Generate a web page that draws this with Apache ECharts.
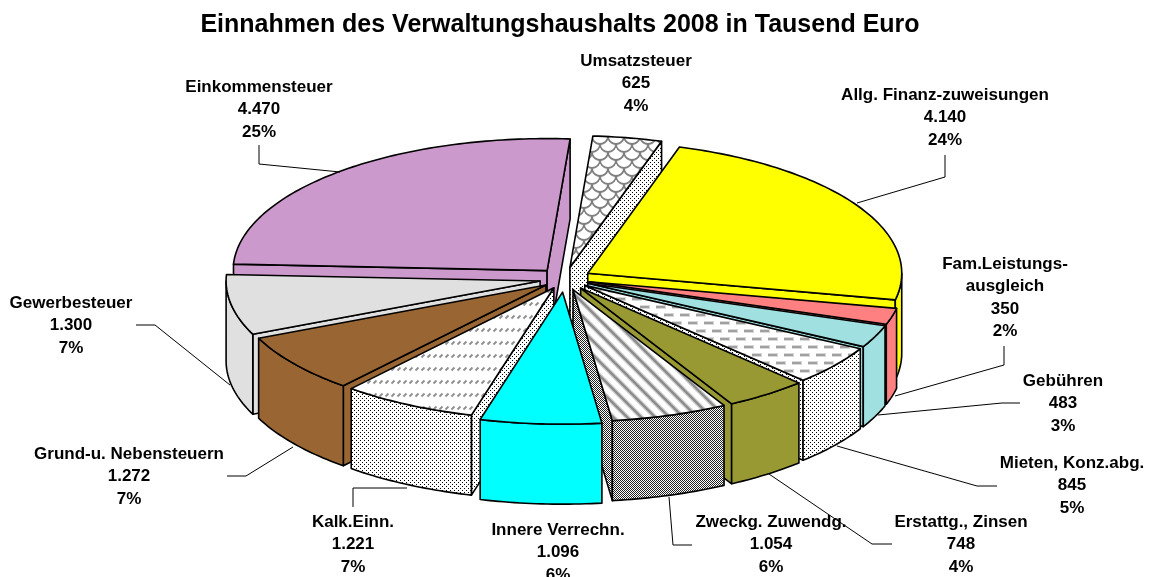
<!DOCTYPE html>
<html>
<head>
<meta charset="utf-8">
<style>html,body{margin:0;padding:0;background:#fff}#chart{width:1156px;height:577px}</style>
<script src="https://cdn.jsdelivr.net/npm/echarts@6/dist/echarts.min.js"></script>
</head>
<body>
<div id="chart"></div>
<script>
const chartTitle = 'Einnahmen des Verwaltungshaushalts 2008 in Tausend Euro'
const names = ['Umsatzsteuer', 'Allg. Finanz-zuweisungen', 'Fam.Leistungs-\nausgleich', 'Gebühren', 'Mieten, Konz.abg.',
  'Erstattg., Zinsen', 'Zweckg. Zuwendg.', 'Innere Verrechn.', 'Kalk.Einn.', 'Grund-u. Nebensteuern', 'Gewerbesteuer', 'Einkommensteuer']
const values = [625, 4140, 350, 483, 845, 748, 1054, 1096, 1221, 1272, 1300, 4470]

// how far each slice is pulled out, as share of the radius
const explode = [0.088, 0.085, 0.08, 0.08, 0.08, 0.085, 0.085, 0.1, 0.075, 0.075, 0.08, 0.085]
// back to front, slices are painted in this order
const drawOrder = [11, 0, 1, 2, 3, 4, 5, 6, 10, 9, 8, 7]

// pie geometry
const cx = 564.8, cy = 279, rx = 314, ry = 132, depth = 80, startDeg = 4.2

// label centre, y of first line
const labelPos = [[636, 61], [945, 95], [1005, 264], [1063, 381], [1072, 463], [961, 522],
  [771, 522], [558, 530], [353, 522], [129, 454], [71, 303], [259, 87]]
const leaders = [
  null,
  [[945, 155], [945, 177], [857, 203]],
  [[1004, 346], [1004, 365], [895, 396]],
  [[1020, 403], [1002, 403], [878, 415]],
  [[997, 486], [977, 486], [837, 446]],
  [[892, 544], [872, 544], [769, 474]],
  [[692, 545], [673, 545], [669, 497]],
  null,
  [[353, 507], [353, 488], [407, 488]],
  [[227, 476], [246, 476], [293, 447]],
  [[136, 325], [155, 325], [230, 385]],
  [[259, 145], [259, 164], [340, 172]]
]

function tile(w, h, draw) {
  const c = document.createElement('canvas')
  c.width = w
  c.height = h
  const g = c.getContext('2d')
  g.fillStyle = '#fff'
  g.fillRect(0, 0, w, h)
  draw(g)
  return { image: c, repeat: 'repeat' }
}

const dots = tile(4, 4, g => {
  g.fillStyle = '#000'
  g.fillRect(0, 0, 1, 1)
  g.fillRect(2, 2, 1, 1)
})
const checker = tile(2, 2, g => {
  g.fillStyle = '#222'
  g.fillRect(0, 0, 1, 1)
  g.fillRect(1, 1, 1, 1)
})
const shingles = tile(16, 16, g => {
  g.strokeStyle = '#808080'
  g.fillStyle = '#fff'
  g.lineWidth = 1.8
  for (let row = 3; row >= -1; row--) {
    const y = row * 8
    for (let x = row % 2 ? -8 : 0; x <= 24; x += 16) {
      g.beginPath()
      g.arc(x, y, 8, 0, Math.PI)
      g.fill()
      g.stroke()
    }
  }
})
const slashes = tile(6, 13, g => {
  g.strokeStyle = '#909090'
  g.lineWidth = 2
  g.beginPath()
  g.moveTo(1.5, 6.5)
  g.lineTo(4.5, 3.5)
  g.stroke()
})
const stripes = tile(14, 14, g => {
  const line = () => {
    for (const o of [-14, 0, 14]) {
      g.beginPath()
      g.moveTo(o - 2, -2)
      g.lineTo(o + 16, 16)
      g.stroke()
    }
  }
  g.strokeStyle = '#d4d4d4'
  g.lineWidth = 5
  line()
  g.strokeStyle = '#8c8c8c'
  g.lineWidth = 2.5
  line()
})
const dashes = tile(16, 16, g => {
  g.fillStyle = '#d8d8d8'
  g.fillRect(0, 1, 10, 4)
  g.fillRect(8, 9, 8, 4)
  g.fillRect(0, 9, 2, 4)
  g.fillStyle = '#a0a0a0'
  g.fillRect(0, 2, 9, 2)
  g.fillRect(8, 10, 8, 2)
  g.fillRect(0, 10, 1, 2)
})

// top face, walls
const faces = [
  [shingles, dots],
  ['#ffff00', '#ffff00'],
  ['#ff8080', '#ff8080'],
  ['#a0e0e0', '#a0e0e0'],
  [dashes, dots],
  ['#999933', '#999933'],
  [stripes, checker],
  ['#00ffff', '#00ffff'],
  [slashes, dots],
  ['#996633', '#996633'],
  ['#e0e0e0', '#e0e0e0'],
  ['#cc99cc', '#cc99cc']
]

const total = values.reduce((a, b) => a + b, 0)
const rad = d => d * Math.PI / 180

function sliceAngles(i) {
  let before = 0
  for (let k = 0; k < i; k++) before += values[k]
  const a0 = startDeg + before / total * 360
  return [a0, a0 + values[i] / total * 360]
}

function rimPoint(tip, deg, drop) {
  return [tip[0] + rx * Math.sin(rad(deg)), tip[1] - ry * Math.cos(rad(deg)) + drop]
}

function renderSlice(params, api) {
  const i = api.value(0)
  const [a0, a1] = sliceAngles(i)
  const mid = (a0 + a1) / 2
  const tip = [cx + explode[i] * rx * Math.sin(rad(mid)), cy - explode[i] * ry * Math.cos(rad(mid))]
  const low = [tip[0], tip[1] + depth]
  const line = { stroke: '#000', lineWidth: 1.6, lineJoin: 'round' }
  const poly = (points, fill) => ({ type: 'polygon', shape: { points }, style: { fill, ...line } })

  const wall = deg => poly([tip, rimPoint(tip, deg, 0), rimPoint(tip, deg, depth), low], faces[i][1])
  const children = []
  // radial walls: the one turned away goes first so the top covers it
  const leadShows = Math.sin(rad(a1)) > 0
  const trailShows = Math.sin(rad(a0)) < 0
  if (trailShows) children.push(wall(a0))
  if (leadShows) children.push(wall(a1))

  // outer wall only where the rim faces the viewer
  const from = Math.max(a0, 90), to = Math.min(a1, 270)
  if (from < to) {
    const upper = [], lower = []
    for (let d = from; d < to; d += 1) {
      upper.push(rimPoint(tip, d, 0))
      lower.push(rimPoint(tip, d, depth))
    }
    upper.push(rimPoint(tip, to, 0))
    lower.push(rimPoint(tip, to, depth))
    children.push(poly(upper.concat(lower.reverse()), faces[i][1]))
  }

  const top = [tip]
  for (let d = a0; d < a1; d += 1) top.push(rimPoint(tip, d, 0))
  top.push(rimPoint(tip, a1, 0))
  children.push(poly(top, faces[i][0]))
  return { type: 'group', children }
}

function renderLabel(params, api) {
  const i = api.value(0)
  const children = []
  if (leaders[i]) {
    children.push({
      type: 'polyline',
      shape: { points: leaders[i] },
      style: { fill: 'none', stroke: '#000', lineWidth: 1 }
    })
  }
  const value = values[i].toLocaleString('de-DE')
  const pct = Math.round(values[i] / total * 100) + '%'
  children.push({
    type: 'text',
    x: labelPos[i][0],
    y: labelPos[i][1] - 11,
    style: {
      text: names[i] + '\n' + value + '\n' + pct,
      fill: '#000',
      font: 'bold 17px "Liberation Sans", Arial, sans-serif',
      lineHeight: 22.4,
      align: 'center',
      verticalAlign: 'top'
    }
  })
  return { type: 'group', children }
}

const chart = echarts.init(document.getElementById('chart'))
chart.setOption({
  animation: false,
  backgroundColor: '#fff',
  title: {
    text: chartTitle,
    left: 555,
    top: 8,
    textAlign: 'center',
    textStyle: { fontFamily: '"Liberation Sans", Arial, sans-serif', fontSize: 25, fontWeight: 'bold', color: '#000' }
  },
  series: [
    {
      type: 'custom',
      coordinateSystem: 'none',
      silent: true,
      renderItem: renderSlice,
      data: drawOrder.map(i => [i, values[i]])
    },
    {
      type: 'custom',
      coordinateSystem: 'none',
      silent: true,
      z: 5,
      renderItem: renderLabel,
      data: values.map((v, i) => [i, v])
    }
  ]
})
</script>
</body>
</html>
